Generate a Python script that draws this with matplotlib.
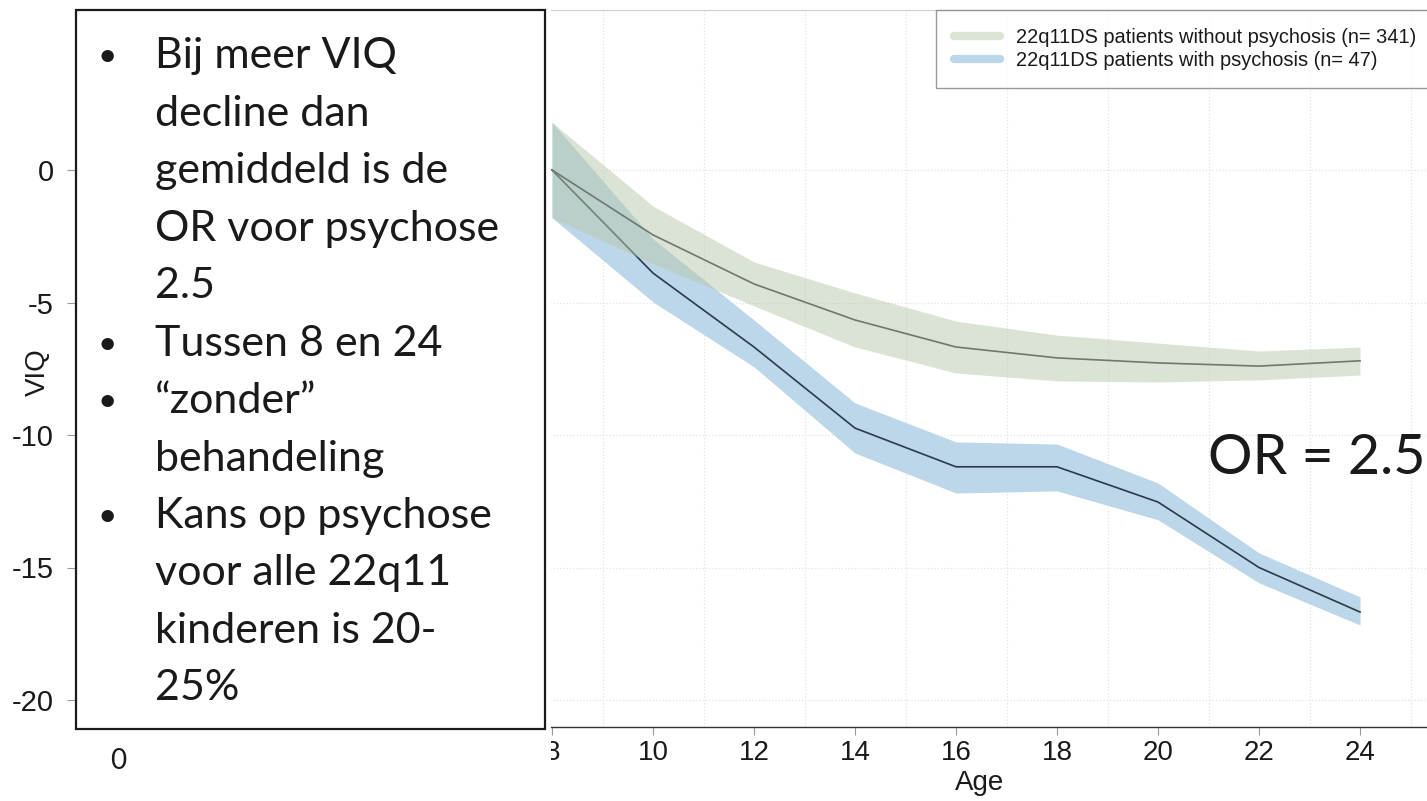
import matplotlib
matplotlib.use("Agg")
import matplotlib.pyplot as plt
from matplotlib.patches import Rectangle
from matplotlib.lines import Line2D
from matplotlib.transforms import Bbox, TransformedBbox

# VIQ change by age
ages = [8, 10, 12, 14, 16, 18, 20, 22, 24]
no_psy_mean = [0, -2.45, -4.3, -5.66, -6.68, -7.09, -7.28, -7.4, -7.2]
no_psy_upper = [1.8, -1.36, -3.47, -4.64, -5.7, -6.23, -6.53, -6.83, -6.68]
no_psy_lower = [-1.8, -3.54, -5.13, -6.68, -7.66, -7.96, -8.0, -7.92, -7.74]
psy_mean = [0, -3.89, -6.68, -9.74, -11.2, -11.2, -12.53, -15.0, -16.68]
psy_upper = [1.8, -2.6, -5.66, -8.79, -10.26, -10.34, -11.81, -14.45, -16.11]
psy_lower = [-1.8, -4.98, -7.43, -10.68, -12.19, -12.11, -13.2, -15.58, -17.17]

legend_labels = ["22q11DS patients without psychosis (n= 341)",
                 "22q11DS patients with psychosis (n= 47)"]
yticks = [0, -5, -10, -15, -20]
xticks = [8, 10, 12, 14, 16, 18, 20, 22, 24]

box_lines = [
    (True, "Bij meer VIQ"),
    (False, "decline dan"),
    (False, "gemiddeld is de"),
    (False, "OR voor psychose"),
    (False, "2.5"),
    (True, "Tussen 8 en 24"),
    (True, "\u201czonder\u201d"),
    (False, "behandeling"),
    (True, "Kans op psychose"),
    (False, "voor alle 22q11"),
    (False, "kinderen is 20-"),
    (False, "25%"),
]

W, H = 1427, 801
plt.rcParams["font.family"] = ["Liberation Sans", "DejaVu Sans"]
fig = plt.figure(figsize=(W / 100, H / 100), dpi=100)


def fx(px):
    return px / W


def fy(py):
    return 1 - py / H


ax = fig.add_axes([fx(76), fy(727), fx(1427) - fx(76), fy(10) - fy(727)])

blue_fill = "#bdd7ea"
green_fill = "#b9c9ab"

ax.fill_between(ages, psy_lower, psy_upper, color=blue_fill, lw=0, zorder=2)
ax.plot(ages, psy_mean, color="#2b3948", lw=1.2, zorder=3)
ax.fill_between(ages, no_psy_lower, no_psy_upper, color=green_fill, alpha=0.5, lw=0, zorder=4)
ax.plot(ages, no_psy_mean, color="#6f776f", lw=1.2, zorder=5)

ax.set_xlim(8 - 476 / 50.5, 8 + 875 / 50.5)
ax.set_ylim(-557 / 26.5, 160 / 26.5)
ax.set_xticks(xticks)
ax.set_xticks(range(-1, 26), minor=True)
ax.set_yticks(yticks)
ax.set_yticklabels([str(v) for v in yticks])
ax.tick_params(axis="both", which="major", labelsize=20, length=6, width=0.8,
               color="#999999", labelcolor="#1a1a1a")
ax.tick_params(axis="y", which="major", labelsize=21, length=6.5, pad=9.5)
ax.tick_params(axis="x", which="minor", length=0)
ax.grid(True, axis="x", which="minor", ls=":", color="#e2e2e2", lw=0.9)
ax.grid(True, axis="y", which="major", ls=":", color="#e2e2e2", lw=0.9)
ax.set_axisbelow(True)
for s in ["left", "right"]:
    ax.spines[s].set_visible(False)
ax.spines["top"].set_color("#d0d0d0")
ax.spines["bottom"].set_color("#333333")
ax.spines["bottom"].set_linewidth(1.0)

ax.set_xlabel("Age", fontsize=20, color="#1a1a1a")
ax.xaxis.set_label_coords((980 - 76) / 1351, -(770 - 727) / 717)
ax.set_ylabel("VIQ", fontsize=20, color="#1a1a1a")
ax.yaxis.set_label_coords(-(76 - 51) / 1351, (727 - 372) / 717)

handles = [Line2D([], [], color="#dce4d5", lw=6, solid_capstyle="round"),
           Line2D([], [], color="#bdd7ea", lw=6, solid_capstyle="round")]
leg = ax.legend(handles, legend_labels, loc="upper left",
                bbox_to_anchor=(fx(936), fy(10)), bbox_transform=fig.transFigure,
                fontsize=14.4, frameon=True, fancybox=False, borderaxespad=0,
                borderpad=0.9, labelspacing=0.2, handlelength=2.3,
                handletextpad=0.8)
leg.get_frame().set_edgecolor("#808080")
leg.get_frame().set_linewidth(1.0)
for t in leg.get_texts():
    t.set_color("#1a1a1a")

ax.text(fx(1208), fy(474), "OR = 2.5", transform=fig.transFigure, family="Lato",
        fontsize=40, color="#1a1a1a", ha="left", va="baseline", zorder=10)

# the slide crops the chart on its left side
fig.add_artist(Rectangle((fx(545), 0), fx(551) - fx(545), 1, transform=fig.transFigure,
                         facecolor="white", edgecolor="none", zorder=5))
clip = TransformedBbox(Bbox([[fx(551), 0], [1, 1]]), fig.transFigure)
for lab in ax.get_xticklabels():
    lab.set_clip_box(clip)
    lab.set_clip_on(True)

# text box overlay
fig.add_artist(Rectangle((fx(76), fy(729)), fx(545) - fx(76), fy(10) - fy(729),
                         transform=fig.transFigure, facecolor="white",
                         edgecolor="#1a1a1a", lw=1.6, zorder=6))
for i, (bullet, line) in enumerate(box_lines):
    base = 68 + 57.5 * i
    if bullet:
        fig.text(fx(107), fy(base - 2), "\u2022", family="Lato", fontsize=24,
                 color="#1a1a1a", ha="center", va="baseline", zorder=7)
    fig.text(fx(155), fy(base), line, family="Lato", fontsize=31,
             color="#1a1a1a", ha="left", va="baseline", zorder=7)

fig.text(fx(118), fy(769), "0", family="Lato", fontsize=20, color="#1a1a1a",
         ha="center", va="baseline")

fig.savefig("out.png", dpi=100)
